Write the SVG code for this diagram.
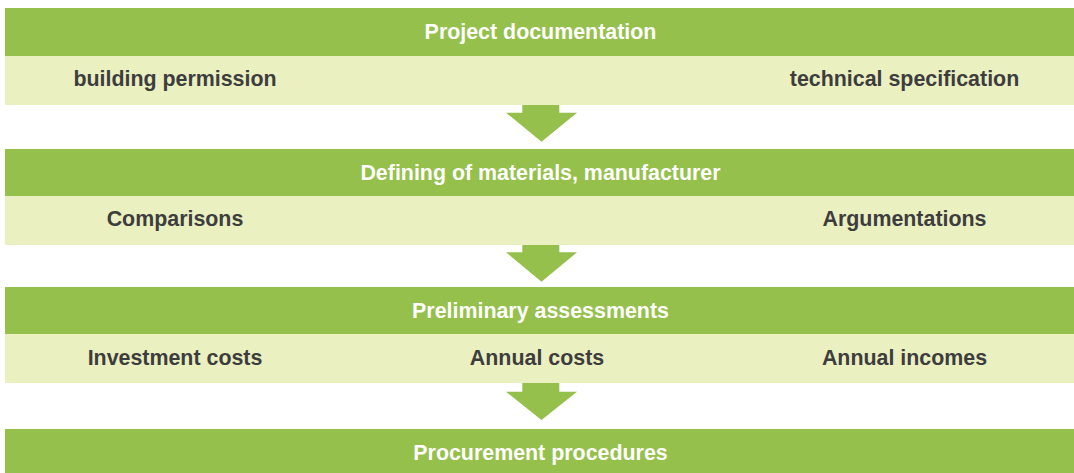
<svg xmlns="http://www.w3.org/2000/svg" width="1074" height="473" viewBox="0 0 1074 473">
<style>
.bar{fill:#95c04b}
.sub{fill:#ebf0c1}
.arrow{fill:#95c04b}
text{font-family:"Liberation Sans",Arial,sans-serif;font-weight:bold;font-size:21.4px}
.h{fill:#ffffff;text-anchor:middle}
.t{fill:#3d3d3d;text-anchor:middle}
</style>
<rect width="1074" height="473" fill="#ffffff"/>
<g id="node-project-documentation">
<rect class="bar" x="5" y="8" width="1069" height="48"/>
<rect class="sub" x="5" y="56" width="1069" height="49"/>
<text class="h" x="540.5" y="39">Project documentation</text>
<text class="t" x="175" y="86">building permission</text>
<text class="t" x="904.5" y="86">technical specification</text>
</g>
<g id="node-defining-materials">
<rect class="bar" x="5" y="149" width="1069" height="47"/>
<rect class="sub" x="5" y="196" width="1069" height="49"/>
<text class="h" x="540.5" y="180">Defining of materials, manufacturer</text>
<text class="t" x="175" y="226">Comparisons</text>
<text class="t" x="904.5" y="226">Argumentations</text>
</g>
<g id="node-preliminary-assessments">
<rect class="bar" x="5" y="287" width="1069" height="47"/>
<rect class="sub" x="5" y="334" width="1069" height="49"/>
<text class="h" x="540.5" y="318">Preliminary assessments</text>
<text class="t" x="175" y="365">Investment costs</text>
<text class="t" x="537" y="365">Annual costs</text>
<text class="t" x="904.5" y="365">Annual incomes</text>
</g>
<g id="node-procurement-procedures">
<rect class="bar" x="5" y="429" width="1069" height="44"/>
<text class="h" x="540.5" y="460">Procurement procedures</text>
</g>
<g id="connectors">
<path class="arrow" d="M522.3 105 H559.3 V112.7 H577 L541.5 141.7 L506 112.7 H522.3 Z"/>
<path class="arrow" d="M522.3 245 H559.3 V252.3 H577 L541.5 281.7 L506 252.3 H522.3 Z"/>
<path class="arrow" d="M522.3 383 H559.3 V391.7 H577 L541.5 420 L506 391.7 H522.3 Z"/>
</g>
</svg>
